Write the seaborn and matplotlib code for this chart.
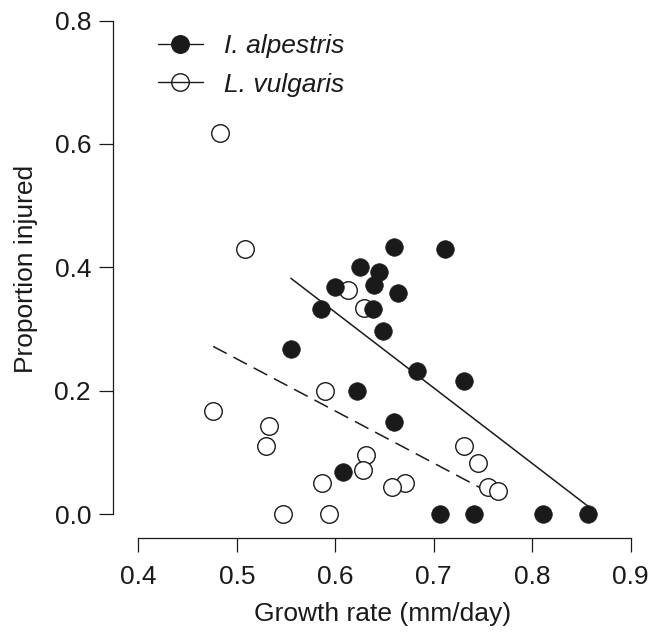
import matplotlib
matplotlib.use("Agg")
import matplotlib.pyplot as plt
from matplotlib.lines import Line2D
import numpy as np
import pandas as pd
import seaborn as sns

# Ichthyosaura alpestris: growth rate vs. proportion of injured larvae
alpestris_growth = [0.660, 0.711, 0.625, 0.644, 0.600, 0.639, 0.664, 0.586,
                    0.638, 0.648, 0.555, 0.683, 0.731, 0.622, 0.660, 0.608,
                    0.706, 0.741, 0.811, 0.857]
alpestris_injured = [0.433, 0.429, 0.400, 0.393, 0.368, 0.371, 0.358, 0.333,
                     0.333, 0.297, 0.268, 0.232, 0.215, 0.200, 0.149, 0.068,
                     0.000, 0.000, 0.000, 0.000]

# Lissotriton vulgaris
vulgaris_growth = [0.483, 0.508, 0.613, 0.629, 0.590, 0.476, 0.533, 0.530,
                   0.631, 0.628, 0.587, 0.671, 0.658, 0.731, 0.745, 0.755,
                   0.765, 0.547, 0.594]
vulgaris_injured = [0.617, 0.429, 0.364, 0.334, 0.200, 0.167, 0.143, 0.111,
                    0.095, 0.071, 0.050, 0.050, 0.043, 0.111, 0.083, 0.043,
                    0.038, 0.000, 0.000]

# Fitted linear regressions (intercept, slope)
alpestris_fit = (1.062, -1.225)
vulgaris_fit = (0.674, -0.845)

x_ticks = [0.4, 0.5, 0.6, 0.7, 0.8, 0.9]
y_ticks = [0.0, 0.2, 0.4, 0.6, 0.8]

sns.set_theme(style="ticks")
plt.rcParams["font.family"] = ["Liberation Sans", "DejaVu Sans"]

W, H = 652, 632
fig = plt.figure(figsize=(W / 100, H / 100), dpi=100)
ax = fig.add_axes([113.3 / W, (H - 538.3) / H, (W - 113.3) / W, 538.3 / H])

df_a = pd.DataFrame({"growth": alpestris_growth, "injured": alpestris_injured})
df_v = pd.DataFrame({"growth": vulgaris_growth, "injured": vulgaris_injured})

ink = "#1a1a1a"
msize = 160

# regression lines over each species' observed growth range
def fit_frame(df, fit):
    xs = np.array([df["growth"].min(), df["growth"].max()])
    return pd.DataFrame({"growth": xs, "injured": fit[0] + fit[1] * xs})

sns.lineplot(data=fit_frame(df_a, alpestris_fit), x="growth", y="injured",
             ax=ax, color=ink, lw=1.1, zorder=1)
sns.lineplot(data=fit_frame(df_v, vulgaris_fit), x="growth", y="injured",
             ax=ax, color=ink, lw=1.1, zorder=1)
ax.lines[-1].set_dashes((10, 5))

sns.scatterplot(data=df_v, x="growth", y="injured", ax=ax, s=msize,
                facecolor="white", edgecolor=ink, linewidth=1.0, zorder=2)
sns.scatterplot(data=df_a, x="growth", y="injured", ax=ax, s=msize,
                color=ink, edgecolor=ink, linewidth=0.5, zorder=3)

ax.set_xlim(0.4 - 25.0 / 984.8, 0.4 + (W - 138.3) / 984.8)
ax.set_ylim(-(538.3 - 514) / 616.7, 514 / 616.7)

for side in ("top", "right"):
    ax.spines[side].set_visible(False)
ax.spines["left"].set_bounds(0.0, 0.8)
ax.spines["bottom"].set_bounds(0.4, 0.9)
for side in ("left", "bottom"):
    ax.spines[side].set_linewidth(0.9)
    ax.spines[side].set_color(ink)

ax.set_xticks(x_ticks)
ax.set_xticklabels([f"{v:.1f}" for v in x_ticks])
ax.set_yticks(y_ticks)
ax.set_yticklabels([f"{v:.1f}" for v in y_ticks])
ax.tick_params(axis="both", direction="out", length=10, width=0.9,
               color=ink, labelcolor=ink, labelsize=19)
ax.tick_params(axis="x", pad=9)
ax.tick_params(axis="y", pad=6)

ax.set_xlabel("Growth rate (mm/day)", fontsize=19, color=ink, labelpad=9.5)
ax.set_ylabel("Proportion injured", fontsize=19, color=ink, labelpad=12)

handles = [
    Line2D([], [], color=ink, lw=1.0, marker="o", markersize=12.6,
           markerfacecolor=ink, markeredgecolor=ink),
    Line2D([], [], color=ink, lw=1.0, marker="o", markersize=12.6,
           markerfacecolor="none", markeredgecolor=ink, markeredgewidth=1.0),
]
leg = ax.legend(handles, ["I. alpestris", "L. vulgaris"], loc="upper left",
                bbox_to_anchor=(158 / W, 1 - 34 / H), bbox_transform=fig.transFigure,
                frameon=False, handlelength=1.7, handletextpad=0.8,
                labelspacing=0.55, borderpad=0, borderaxespad=0,
                prop={"style": "italic", "size": 19})
for t in leg.get_texts():
    t.set_color(ink)

fig.savefig("out.png", dpi=100)
